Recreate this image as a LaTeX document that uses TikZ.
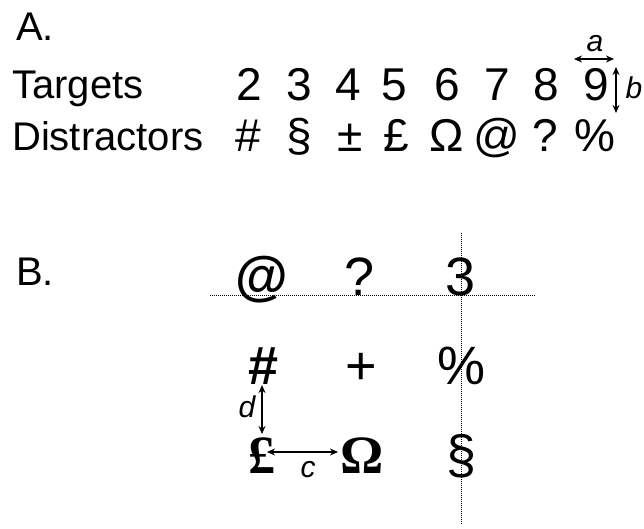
\documentclass[tikz,border=0pt]{standalone}
\usepackage{fontspec}
\setmainfont{Liberation Sans}
\newfontfamily\serifB{Liberation Serif}
\usetikzlibrary{arrows.meta}
\tikzset{
  lbl/.style={anchor=base west, inner sep=0pt, font=\fontsize{40}{42}\selectfont},
  sym/.style={anchor=base, inner sep=0pt, font=\fontsize{46}{48}\selectfont},
  gsym/.style={anchor=base, inner sep=0pt, font=\fontsize{54}{56}\selectfont},
  gbold/.style={anchor=base, inner sep=0pt, font=\fontsize{54}{56}\selectfont\bfseries},
  gserif/.style={anchor=base, inner sep=0pt, font=\fontsize{54}{56}\selectfont\serifB\bfseries},
  dim/.style={anchor=base, inner sep=0pt, font=\fontsize{30}{32}\selectfont\itshape},
  dimarrow/.style={{Stealth[length=8pt,width=7pt]}-{Stealth[length=8pt,width=7pt]}, line width=1.2pt},
  guide/.style={densely dotted, line width=1pt}
}
\begin{document}
\begin{tikzpicture}[x=1pt,y=-1pt]
\useasboundingbox (0,0) rectangle (644,529);
% Section A
\node[lbl] (A) at (16,41) {A.};
\node[lbl] (targets) at (12,99) {Targets};
\node[lbl] (distr) at (12,151) {Distractors};
\foreach \ch/\x/\nm in {2/249/t2,3/299/t3,4/348/t4,5/394/t5,6/447/t6,7/497/t7,8/546/t8,9/596/t9}{
  \node[sym] (\nm) at (\x,101) {\ch};
}
\node[sym] (dhash) at (248,152) {\#};
\node[sym] (dsect) at (299,152) {§};
\node[sym] (dpm) at (350,152) {±};
\node[sym] (dpound) at (396,152) {£};
\node[sym] (domega) at (447,152) {Ω};
\node[sym] (dat) at (497,152) {@};
\node[sym] (dq) at (545,152) {?};
\node[sym] (dpct) at (595,152) {\%};
% a and b
\coordinate (a1) at (574,59);
\coordinate (a2) at (614,59);
\draw[dimarrow] (a1) -- (a2);
\node[dim] (alab) at (595,52) {a};
\coordinate (b1) at (616,67);
\coordinate (b2) at (616,113);
\draw[dimarrow] (b1) -- (b2);
\node[dim] (blab) at (634,99) {b};
% Section B
\node[lbl] (B) at (16,285) {B.};
\draw[guide] (210,295) coordinate (h1) -- (535,295) coordinate (h2);
\draw[guide] (461,233) coordinate (v1) -- (461,525) coordinate (v2);
\node[gbold] (gat) at (262,294) {@};
\node[gsym] (gq) at (360,295) {?};
\node[gsym] (g3) at (461,295) {3};
\node[gbold] (ghash) at (264,384) {\#};
\node[gsym] (gplus) at (361,384) {+};
\node[gsym] (gpct) at (461,384) {\%};
\node[gserif] (gpound) at (262,473) {£};
\node[gserif] (gomega) at (362,473) {Ω};
\node[gsym] (gsect) at (462,473) {§};
% d and c
\coordinate (d1) at (262,385);
\coordinate (d2) at (262,434);
\draw[dimarrow] (d1) -- (d2);
\node[dim] (dlab) at (247,417) {d};
\coordinate (c1) at (267,452);
\coordinate (c2) at (338,452);
\draw[dimarrow] (c1) -- (c2);
\node[dim] (clab) at (308,477) {c};
\end{tikzpicture}
\end{document}
